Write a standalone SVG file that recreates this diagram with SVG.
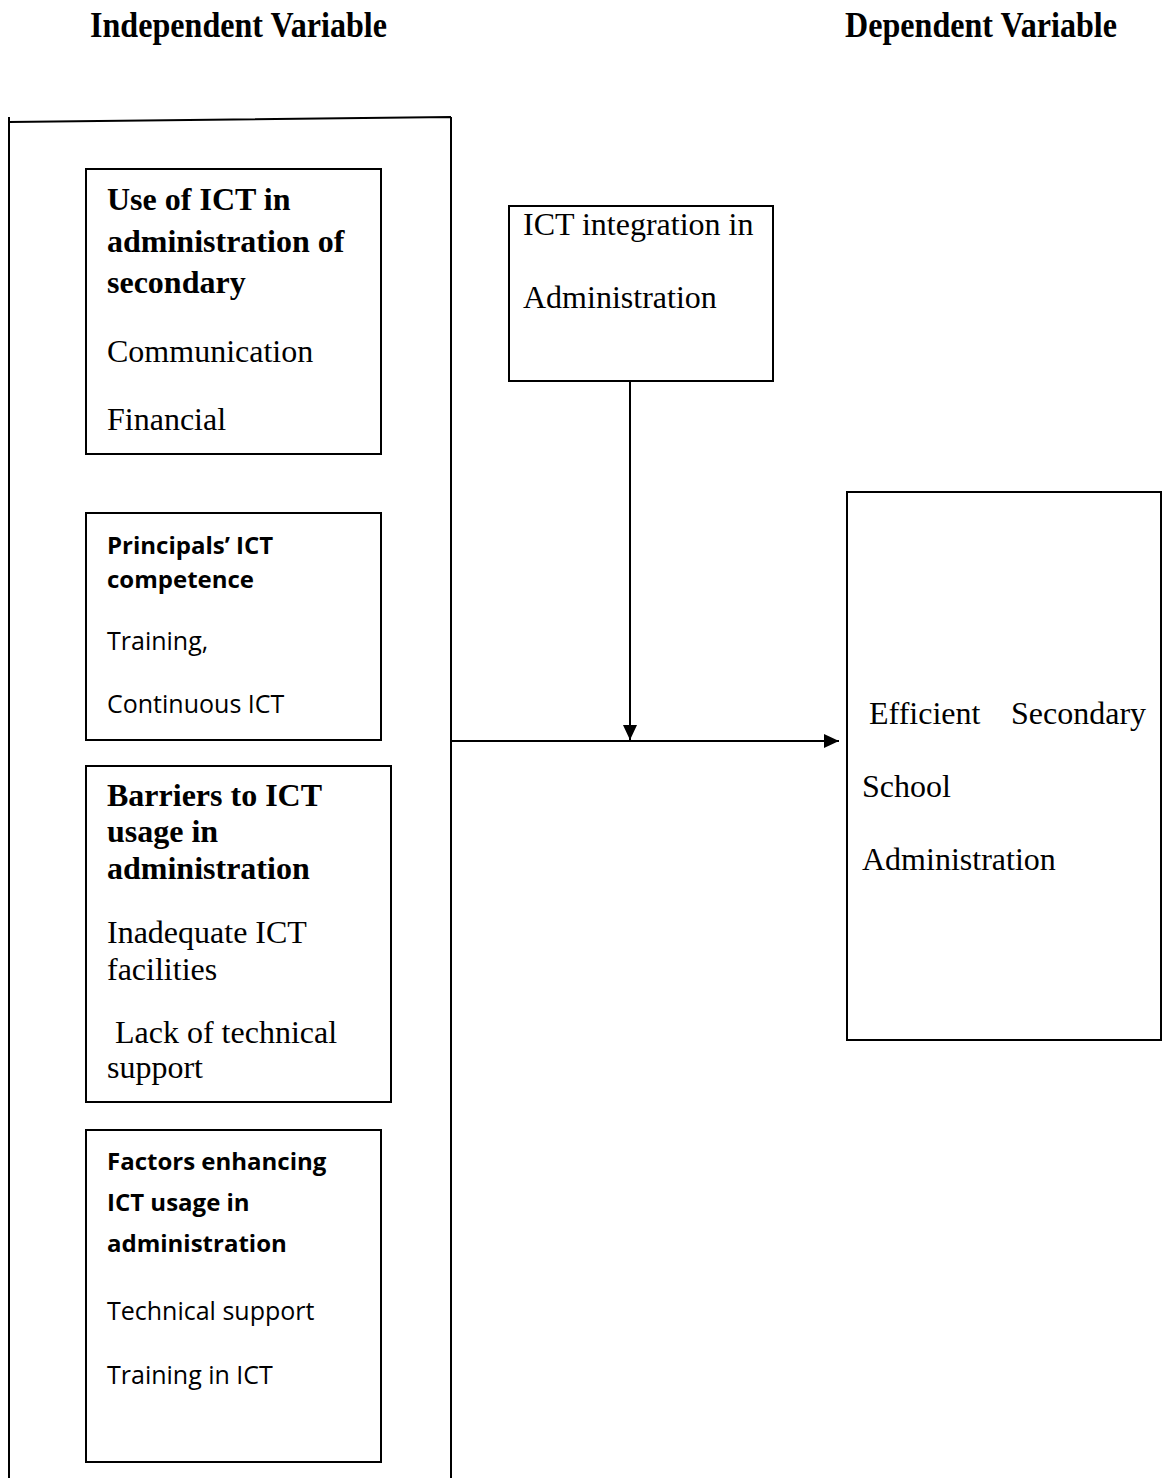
<svg xmlns="http://www.w3.org/2000/svg" width="1163" height="1478" viewBox="0 0 1163 1478">
<style>
.box{fill:#fff;stroke:#000;stroke-width:2}
.ln{fill:none;stroke:#000;stroke-width:2}
.tb{font-family:"Liberation Serif","Times New Roman",serif;font-weight:bold;font-size:32px;fill:#000}
.hd{font-family:"Liberation Serif","Times New Roman",serif;font-weight:bold;font-size:35px;fill:#000}
.tr{font-family:"Liberation Serif","Times New Roman",serif;font-size:32px;fill:#000}
.sb{font-family:"Open Sans","Noto Sans",sans-serif;font-weight:bold;font-size:24px;fill:#000}
.sr{font-family:"Open Sans","Noto Sans",sans-serif;font-size:25px;fill:#000}
</style>
<defs>
<marker id="arr" viewBox="0 0 15 14" refX="15" refY="7" markerWidth="15" markerHeight="14" markerUnits="userSpaceOnUse" orient="auto">
<path d="M0,0 L15,7 L0,14 z" fill="#000"/>
</marker>
</defs>
<rect width="1163" height="1478" fill="#fff"/>
<g id="headers">
<text class="hd" x="90" y="37" textLength="297" lengthAdjust="spacingAndGlyphs">Independent Variable</text>
<text class="hd" x="845" y="37" textLength="272" lengthAdjust="spacingAndGlyphs">Dependent Variable</text>
</g>
<g id="independent-frame">
<path class="ln" d="M9,117 V1478 M9,122 L451,117 M451,117 V1478"/>
</g>
<g id="use-of-ict">
<rect class="box" x="86" y="169" width="295" height="285"/>
<text class="tb" x="107" y="210">Use of ICT in</text>
<text class="tb" x="107" y="252">administration of</text>
<text class="tb" x="107" y="293">secondary</text>
<text class="tr" x="107" y="362">Communication</text>
<text class="tr" x="107" y="430">Financial</text>
</g>
<g id="principals-competence">
<rect class="box" x="86" y="513" width="295" height="227"/>
<text class="sb" x="107" y="554">Principals’ ICT</text>
<text class="sb" x="107" y="588">competence</text>
<text class="sr" x="107" y="650">Training,</text>
<text class="sr" x="107" y="713">Continuous ICT</text>
</g>
<g id="barriers">
<rect class="box" x="86" y="766" width="305" height="336"/>
<text class="tb" x="107" y="806">Barriers to ICT</text>
<text class="tb" x="107" y="842">usage in</text>
<text class="tb" x="107" y="879">administration</text>
<text class="tr" x="107" y="943">Inadequate ICT</text>
<text class="tr" x="107" y="980">facilities</text>
<text class="tr" x="115" y="1043">Lack of technical</text>
<text class="tr" x="107" y="1078">support</text>
</g>
<g id="enhancing-factors">
<rect class="box" x="86" y="1130" width="295" height="332"/>
<text class="sb" x="107" y="1170">Factors enhancing</text>
<text class="sb" x="107" y="1211">ICT usage in</text>
<text class="sb" x="107" y="1252">administration</text>
<text class="sr" x="107" y="1320">Technical support</text>
<text class="sr" x="107" y="1384">Training in ICT</text>
</g>
<g id="ict-integration">
<rect class="box" x="509" y="206" width="264" height="175"/>
<text class="tr" x="523" y="235">ICT integration in</text>
<text class="tr" x="523" y="308">Administration</text>
</g>
<g id="efficient-administration">
<rect class="box" x="847" y="492" width="314" height="548"/>
<text class="tr" y="724"><tspan x="869">Efficient</tspan><tspan x="1011">Secondary</tspan></text>
<text class="tr" x="862" y="797">School</text>
<text class="tr" x="862" y="870">Administration</text>
</g>
<g id="connectors">
<line class="ln" x1="630" y1="381" x2="630" y2="740" marker-end="url(#arr)"/>
<line class="ln" x1="451" y1="741" x2="839" y2="741" marker-end="url(#arr)"/>
</g>
</svg>
